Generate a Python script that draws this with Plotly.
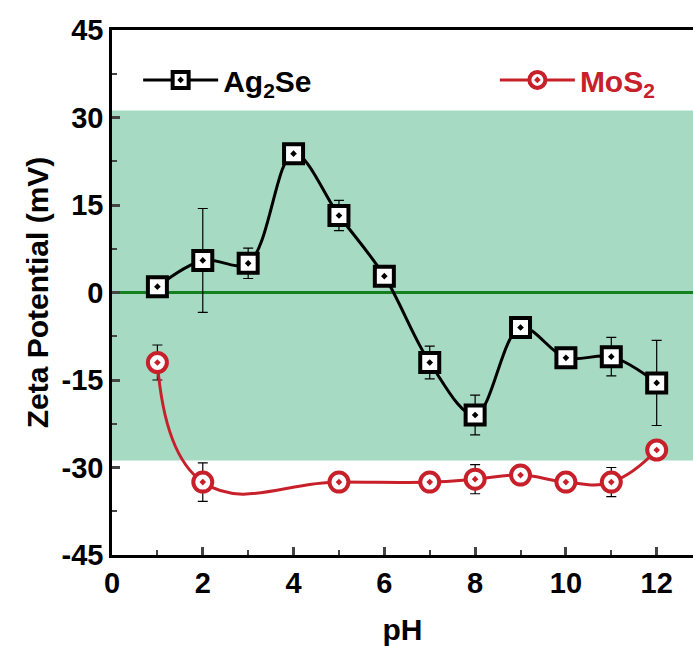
import plotly.graph_objects as go

ph = [1, 2, 3, 4, 5, 6, 7, 8, 9, 10, 11, 12]
ag2se = [1.0, 5.5, 5.0, 23.8, 13.2, 2.8, -12.0, -21.0, -6.0, -11.2, -11.0, -15.5]
ag2se_err = [0.6, 8.9, 2.6, 0.6, 2.6, 0.5, 2.8, 3.4, 0.5, 0.5, 3.3, 7.3]

ph_mos2 = [1, 2, 5, 7, 8, 9, 10, 11, 12]
mos2 = [-12.0, -32.5, -32.5, -32.5, -32.0, -31.3, -32.5, -32.5, -27.0]
mos2_err = [3.0, 3.3, 0.8, 1.5, 2.5, 1.5, 1.5, 2.5, 1.5]

band = [-28.8, 31.2]
xticks = [0, 2, 4, 6, 8, 10, 12]
yticks = [-45, -30, -15, 0, 15, 30, 45]
yticklabels = ["-45", "-30", "-15", "0", "15", "30", "45"]

FONT = "Liberation Sans"
RED = "#c8202a"

fig = go.Figure()

fig.add_shape(type="rect", xref="paper", yref="y", x0=0, x1=1, y0=band[0], y1=band[1],
              fillcolor="#a6dac3", line_width=0, layer="below")
fig.add_shape(type="line", xref="paper", yref="y", x0=0, x1=1, y0=0, y1=0,
              line=dict(color="#13801f", width=3), layer="below")

fig.add_trace(go.Scatter(
    x=ph, y=ag2se, name="Ag<sub>2</sub>Se", mode="lines+markers", legend="legend",
    line=dict(color="black", width=3, shape="spline", smoothing=1),
    marker=dict(symbol="square-dot", size=19, color="white", line=dict(color="black", width=4)),
    error_y=dict(type="data", array=ag2se_err, color="black", thickness=1.2, width=5),
))
fig.add_trace(go.Scatter(
    x=ph_mos2, y=mos2, name="MoS<sub>2</sub>", mode="lines+markers", legend="legend2",
    line=dict(color=RED, width=3, shape="spline", smoothing=1.3),
    marker=dict(symbol="circle-dot", size=19, color="white", line=dict(color=RED, width=4)),
    error_y=dict(type="data", array=mos2_err, color="black", thickness=1.2, width=5),
))

fig.update_layout(
    width=693, height=646,
    margin=dict(l=112, r=0, t=30, b=91),
    plot_bgcolor="white", paper_bgcolor="white",
    font=dict(family=FONT, size=22, color="black", weight="bold"),
    showlegend=True,
    legend=dict(x=0.045, y=0.905, xanchor="left", yanchor="middle",
                bgcolor="rgba(0,0,0,0)", itemwidth=75,
                font=dict(family=FONT, size=30, weight="bold", color="black")),
    legend2=dict(x=0.659, y=0.905, xanchor="left", yanchor="middle",
                 bgcolor="rgba(0,0,0,0)", itemwidth=75,
                 font=dict(family=FONT, size=30, weight="bold", color=RED)),
)
fig.update_xaxes(
    range=[0, 12.8], tickvals=xticks, ticks="inside", ticklen=8, tickwidth=2.5,
    showline=True, linewidth=2.5, linecolor="black", mirror=True, showgrid=False, zeroline=False,
    minor=dict(dtick=1, tick0=0, ticks="inside", ticklen=5, tickwidth=2, showgrid=False),
    title=dict(text="pH", font=dict(size=30, weight="bold"), standoff=22),
    tickfont=dict(size=29, weight="bold"),
)
fig.update_yaxes(
    range=[-45, 45], tickvals=yticks, ticktext=yticklabels, ticks="inside", ticklen=8, tickwidth=2.5,
    showline=True, linewidth=2.5, linecolor="black", showgrid=False, zeroline=False,
    minor=dict(dtick=7.5, tick0=0, ticks="inside", ticklen=5, tickwidth=2, showgrid=False),
    title=dict(text="Zeta Potential (mV)", font=dict(size=30, weight="bold"), standoff=5),
    tickfont=dict(size=29, weight="bold"),
)

fig.write_html("out.html")
